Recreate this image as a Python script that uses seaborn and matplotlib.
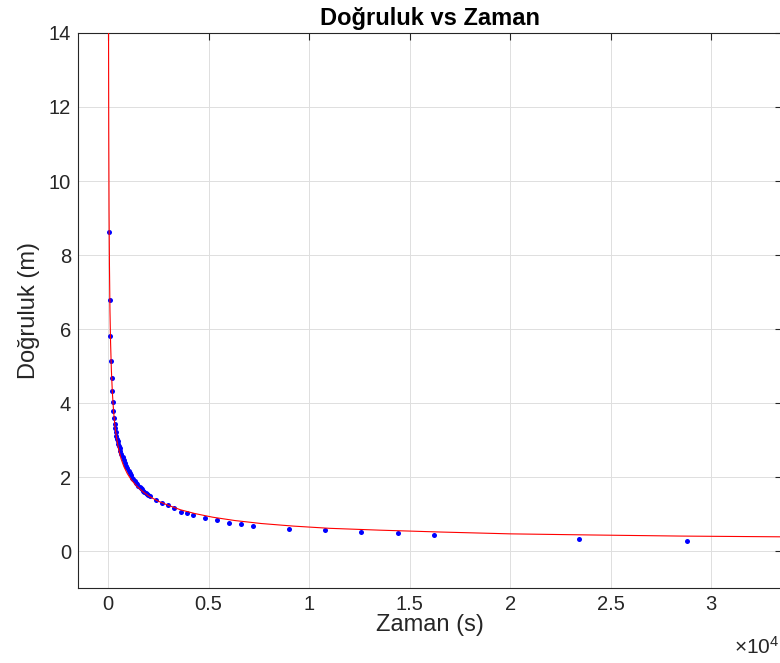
import matplotlib
matplotlib.use("Agg")
import matplotlib.pyplot as plt
from matplotlib.ticker import FuncFormatter
import pandas as pd
import seaborn as sns

# olcum noktalari (mavi)
zaman_olcum = [50, 85, 115, 145, 175, 205, 235, 265, 295, 325, 355, 385, 415, 445, 475,
               505, 535, 565, 600, 660, 720, 780, 840, 900, 960, 1020, 1080, 1140, 1200,
               1260, 1320, 1380, 1440, 1500, 1560, 1620, 1680, 1740, 1800, 1860, 1920, 1980,
               2100, 2400, 2700, 3000, 3300, 3600, 3900, 4200, 4800, 5400, 6000, 6600, 7200,
               9000, 10800, 12600, 14400, 16200, 23400, 28800]
dogruluk_olcum = [8.61, 6.78, 5.81, 5.15, 4.69, 4.32, 4.03, 3.80, 3.60, 3.45, 3.33, 3.22, 3.12, 3.04, 2.97,
                  2.90, 2.84, 2.78, 2.72, 2.63, 2.54, 2.46, 2.38, 2.31, 2.24, 2.17, 2.11, 2.05, 1.99,
                  1.94, 1.89, 1.85, 1.81, 1.77, 1.74, 1.70, 1.67, 1.64, 1.61, 1.58, 1.55, 1.52,
                  1.49, 1.38, 1.31, 1.24, 1.16, 1.07, 1.02, 0.97, 0.89, 0.84, 0.77, 0.73, 0.69,
                  0.61, 0.58, 0.51, 0.48, 0.45, 0.33, 0.28]

# uydurulmus egri (kirmizi), resimden okunan noktalar
zaman_egri = [12, 20, 30, 45, 65, 90, 120, 160, 210, 270, 340, 420, 520, 640, 780, 950,
              1150, 1400, 1700, 2050, 2500, 3000, 3600, 4300, 5200, 6300, 7600, 9200,
              11000, 13500, 16500, 20000, 24000, 28500, 33500]
dogruluk_egri = [17.9, 13.9, 11.3, 9.2, 7.7, 6.5, 5.65, 4.9, 4.28, 3.78, 3.37, 3.05, 2.76, 2.50,
                 2.29, 2.10, 1.93, 1.77, 1.62, 1.48, 1.35, 1.24, 1.12, 1.02, 0.92, 0.83, 0.75,
                 0.68, 0.62, 0.57, 0.52, 0.47, 0.44, 0.41, 0.39]

x_ticks = [0, 5000, 10000, 15000, 20000, 25000, 30000]
y_ticks = [0, 2, 4, 6, 8, 10, 12, 14]

sns.set_style("white")
plt.rcParams['font.family'] = ['Liberation Sans', 'DejaVu Sans']
plt.rcParams['mathtext.fontset'] = 'custom'
plt.rcParams['mathtext.rm'] = 'Liberation Sans'

koyu = '#262626'

df_olcum = pd.DataFrame({'Zaman': zaman_olcum, 'Dogruluk': dogruluk_olcum})
df_egri = pd.DataFrame({'Zaman': zaman_egri, 'Dogruluk': dogruluk_egri})

fig = plt.figure(figsize=(7.8, 6.63), dpi=100)
ax = fig.add_axes([0.1, 0.1127, 0.902, 0.8376])

sns.scatterplot(data=df_olcum, x='Zaman', y='Dogruluk', ax=ax, color='blue',
                s=13, linewidth=0, zorder=3)
sns.lineplot(data=df_egri, x='Zaman', y='Dogruluk', ax=ax, color='red',
             linewidth=0.8, zorder=4, sort=False)

ax.set_xlim(-1500, 33500)
ax.set_ylim(-1, 14)
ax.set_xticks(x_ticks)
ax.set_yticks(y_ticks)
ax.xaxis.set_major_formatter(FuncFormatter(lambda v, p: '%g' % (v / 1e4)))

ax.grid(True, color='#dedede', linewidth=0.7)
ax.set_axisbelow(True)
for sp in ax.spines.values():
    sp.set_color(koyu)
    sp.set_linewidth(0.8)
ax.tick_params(direction='in', length=5, width=0.8, colors=koyu, labelsize=14.5,
               top=True, right=True, pad=5)

ax.set_title('Doğruluk vs Zaman', fontsize=17, fontweight='bold', color='black', pad=6)
ax.set_xlabel('Zaman (s)', fontsize=17, color=koyu, labelpad=0)
ax.set_ylabel('Doğruluk (m)', fontsize=17, color=koyu, labelpad=6)

fig.text(0.999, 0.008, r'$\times\mathregular{10^4}$', ha='right', va='bottom',
         fontsize=15, color=koyu)

fig.savefig('out.png', dpi=100)
